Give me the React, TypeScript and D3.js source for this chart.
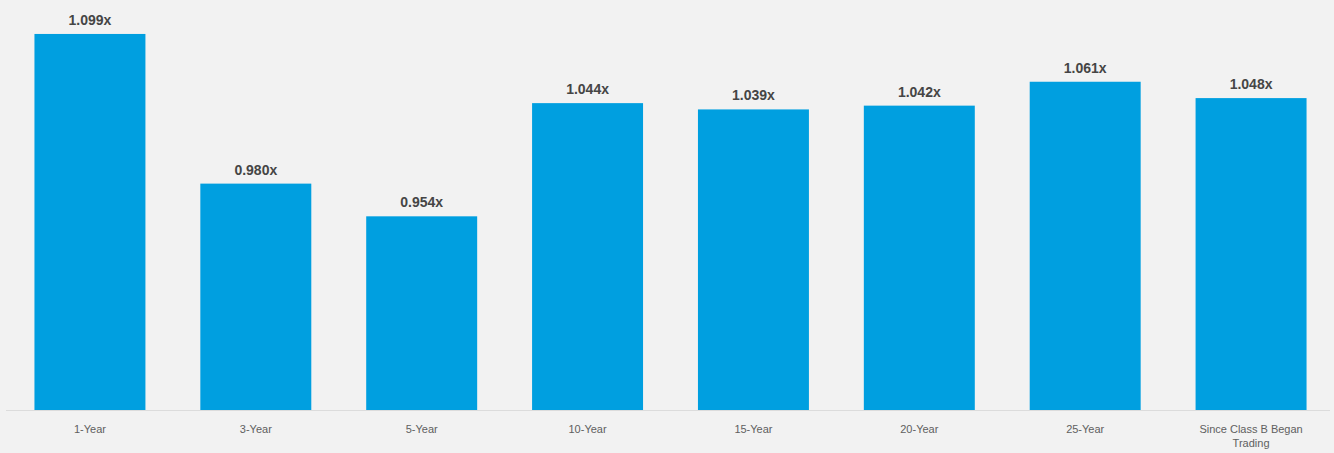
import React from "react";
import * as d3 from "d3";

const categories = ["1-Year", "3-Year", "5-Year", "10-Year", "15-Year", "20-Year", "25-Year", "Since Class B Began Trading"];
const categoryLines = [["1-Year"], ["3-Year"], ["5-Year"], ["10-Year"], ["15-Year"], ["20-Year"], ["25-Year"], ["Since Class B Began", "Trading"]];
const values = [1.099, 0.98, 0.954, 1.044, 1.039, 1.042, 1.061, 1.048];
const valueLabels = ["1.099x", "0.980x", "0.954x", "1.044x", "1.039x", "1.042x", "1.061x", "1.048x"];

const W = 1334;
const H = 453;

export default function App() {
  const x = d3.scaleBand<string>().domain(categories).range([7, 1334]).paddingInner(0.331).paddingOuter(0.1655);
  const y = d3.scaleLinear().domain([0.8, 1.1]).range([410, 32.7]);
  const font = "Arial, 'Liberation Sans', sans-serif";
  return (
    <svg width={W} height={H} style={{ position: "absolute", left: 0, top: 0 }} fontFamily={font}>
      <rect x={0} y={0} width={W} height={H} fill="#f2f2f2" />
      <line x1={6} x2={1330} y1={y(0.8) + 0.5} y2={y(0.8) + 0.5} stroke="#dcdcdc" strokeWidth={1} />
      {categories.map((c, i) => (
        <g key={c}>
          <rect x={x(c)} y={y(values[i])} width={x.bandwidth()} height={y(0.8) - y(values[i])} fill="#009fe0" />
          <text x={(x(c) as number) + x.bandwidth() / 2} y={y(values[i]) - 9} textAnchor="middle" fontSize={14} fontWeight="bold" fill="#454545">
            {valueLabels[i]}
          </text>
          {categoryLines[i].map((ln, j) => (
            <text key={j} x={(x(c) as number) + x.bandwidth() / 2} y={433 + j * 14} textAnchor="middle" fontSize={11} fill="#606060">
              {ln}
            </text>
          ))}
        </g>
      ))}
    </svg>
  );
}
